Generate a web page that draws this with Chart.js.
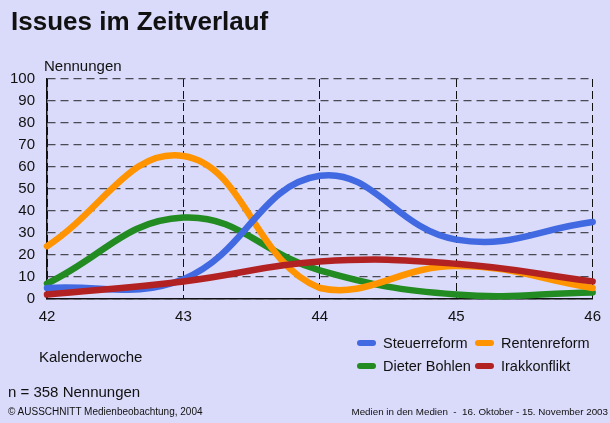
<!DOCTYPE html>
<html>
<head>
<meta charset="utf-8">
<script src="https://cdn.jsdelivr.net/npm/chart.js@4"></script>
<style>
  html, body { margin: 0; padding: 0; }
  body { width: 610px; height: 423px; background: #dadafa; position: relative; overflow: hidden;
         font-family: 'Liberation Sans', Arial, sans-serif; color: #111; }
  #wrap { position: absolute; left: 0; top: 0; width: 610px; height: 423px; }
  .txt { position: absolute; white-space: nowrap; }
  #title { left: 11px; top: 6px; font-size: 26px; font-weight: bold; }
  #yTitle { left: 44px; top: 57px; font-size: 15px; }
  #xTitle { left: 39px; top: 348px; font-size: 15px; }
  #nInfo { left: 8px; top: 383px; font-size: 15px; }
  #copy { left: 8px; top: 406px; font-size: 10px; }
  #source { right: 2px; top: 406px; font-size: 9.8px; }
  #legend { position: absolute; left: 357px; top: 334px; display: grid;
            grid-template-columns: 118px 120px; row-gap: 5px; font-size: 14.5px; }
  .item { display: flex; align-items: center; height: 18px; }
  .swatch { width: 19px; height: 6px; border-radius: 3px; margin-right: 7px; }
</style>
</head>
<body>
<div id="wrap"><canvas id="chart" width="610" height="423"></canvas></div>
<div class="txt" id="title">Issues im Zeitverlauf</div>
<div class="txt" id="yTitle">Nennungen</div>
<div class="txt" id="xTitle">Kalenderwoche</div>
<div class="txt" id="nInfo">n = 358 Nennungen</div>
<div class="txt" id="copy">© AUSSCHNITT Medienbeobachtung, 2004</div>
<div class="txt" id="source">Medien in den Medien&nbsp; - &nbsp;16. Oktober - 15. November 2003</div>
<div id="legend"></div>
<script>
// Kalenderwochen
const weeks = [42, 43, 44, 45, 46];
const seriesNames = ['Steuerreform', 'Rentenreform', 'Dieter Bohlen', 'Irakkonflikt'];
const steuerreform = [5, 9, 56, 27, 35];
const rentenreform = [24, 65, 5, 15, 5];
const dieterBohlen = [7, 37, 13, 2, 3];
const irakkonflikt = [2, 8, 17, 16, 8];
const seriesColors = ['#4169e1', '#ff9400', '#228b22', '#b22222'];
const drawOrder = [2, 3, 4, 1]; // lower = drawn on top

const allValues = [steuerreform, rentenreform, dieterBohlen, irakkonflikt];

const datasets = seriesNames.map((name, i) => ({
  label: name,
  data: weeks.map((w, j) => ({ x: w, y: allValues[i][j] })),
  borderColor: seriesColors[i],
  backgroundColor: seriesColors[i],
  borderWidth: 6.5,
  borderCapStyle: 'round',
  pointRadius: 0,
  tension: 0.42,
  fill: false,
  clip: 6,
  order: drawOrder[i]
}));

// HTML legend
const legend = document.getElementById('legend');
seriesNames.forEach((name, i) => {
  const el = document.createElement('div');
  el.className = 'item';
  el.innerHTML = '<span class="swatch" style="background:' + seriesColors[i] + '"></span>' + name;
  legend.appendChild(el);
});

new Chart(document.getElementById('chart'), {
  type: 'line',
  data: { datasets },
  options: {
    responsive: false,
    animation: false,
    events: [],
    layout: { padding: { top: 79, right: 14, bottom: 94, left: 0 } },
    plugins: { legend: { display: false }, tooltip: { enabled: false } },
    scales: {
      x: {
        type: 'linear', min: 42, max: 46,
        afterFit: s => { s.height = 30; },
        ticks: { stepSize: 1, color: '#111', padding: 9, font: { family: "'Liberation Sans', Arial", size: 15 } },
        grid: { color: '#111', lineWidth: 1, drawTicks: false },
        border: { display: true, color: '#111', width: 1.5, dash: [8, 4] }
      },
      y: {
        min: 0, max: 100,
        afterFit: s => { s.width = 47; },
        ticks: { stepSize: 10, color: '#111', padding: 12, font: { family: "'Liberation Sans', Arial", size: 15 } },
        grid: { color: '#4a4a55', lineWidth: 1.3, drawTicks: false },
        border: { display: true, color: '#111', width: 1.5, dash: [8, 5] }
      }
    }
  }
});
</script>
</body>
</html>
